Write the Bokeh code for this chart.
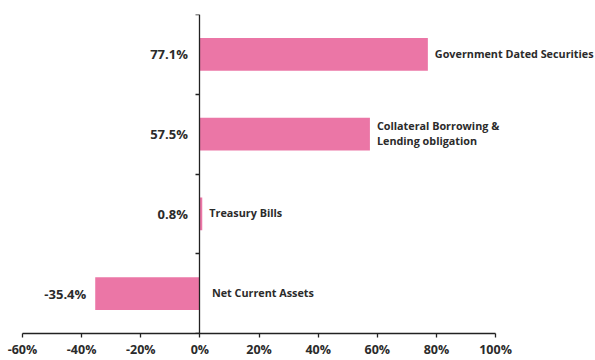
from bokeh.plotting import figure
from bokeh.models import Range1d, LinearAxis, FixedTicker, ColumnDataSource
from bokeh.core.properties import value
from bokeh.embed import file_html
from bokeh.resources import INLINE

# data (top to bottom)
categories = ["Government Dated Securities", "Collateral Borrowing &\nLending obligation",
              "Treasury Bills", "Net Current Assets"]
values = [77.1, 57.5, 0.8, -35.4]
value_labels = ["77.1%", "57.5%", "0.8%", "-35.4%"]
x_ticks = [-60, -40, -20, 0, 20, 40, 60, 80, 100]
x_tick_labels = ["-60%", "-40%", "-20%", "0%", "20%", "40%", "60%", "80%", "100%"]

n = len(categories)
ypos = [n - i - 0.5 for i in range(n)]

FONT = "Open Sans"
TXT = "#2b2b2b"
PINK = "#EB76A6"

p = figure(width=595, height=360, x_range=Range1d(-60, 133.8), y_range=Range1d(0, n),
           y_axis_type=None, output_backend="svg", toolbar_location=None,
           min_border_left=22, min_border_right=0, min_border_top=14, min_border_bottom=23)
p.xgrid.grid_line_color = None
p.ygrid.grid_line_color = None
p.outline_line_color = None
p.background_fill_color = "white"

src = ColumnDataSource(dict(
    y=ypos, v=values, cat=categories, vl=value_labels,
    vl_x=[0 if v >= 0 else v for v in values],
    vl_off=[-12 if v >= 0 else -9 for v in values],
    cat_x=[v if v >= 0 else 0 for v in values],
    cat_off=[7 if v >= 0 else 12 for v in values],
))

p.hbar(y="y", left=0, right="v", height=0.41, source=src, fill_color=PINK, line_color=None)

p.text(x="vl_x", y="y", text="vl", x_offset="vl_off", source=src, text_align="right",
       text_baseline="middle", text_font=value(FONT), text_font_style="bold",
       text_font_size="13px", text_color=TXT)
p.text(x="cat_x", y="y", text="cat", x_offset="cat_off", y_offset=-1, source=src,
       text_align="left", text_baseline="middle", text_font=value(FONT),
       text_font_style="bold", text_font_size="10.8px", text_color=TXT, text_line_height=1.0)

# x axis
xa = p.xaxis[0]
xa.bounds = (x_ticks[0], x_ticks[-1])
xa.ticker = FixedTicker(ticks=x_ticks)
xa.major_label_overrides = {t: l for t, l in zip(x_ticks, x_tick_labels)}
xa.axis_line_color = "#222222"
xa.axis_line_width = 1.3
xa.major_tick_line_color = "#222222"
xa.major_tick_line_width = 1.3
xa.major_tick_out = 4
xa.major_tick_in = 0
xa.minor_tick_line_color = None
xa.major_label_standoff = 3
xa.major_label_text_font = FONT
xa.major_label_text_font_style = "bold"
xa.major_label_text_font_size = "12.5px"
xa.major_label_text_line_height = 0.7
xa.major_label_text_color = TXT

# y axis at x = 0
ya = LinearAxis(fixed_location=0, ticker=FixedTicker(ticks=list(range(n + 1))),
                major_label_overrides={i: "" for i in range(n + 1)},
                major_label_text_font_size="1px", major_tick_out=4, major_tick_in=0,
                minor_tick_line_color=None, axis_line_color="#222222", axis_line_width=1.3,
                major_tick_line_color="#222222", major_tick_line_width=1.3,
                major_label_standoff=0)
p.add_layout(ya, "left")

open("out.html", "w").write(file_html(p, INLINE))
